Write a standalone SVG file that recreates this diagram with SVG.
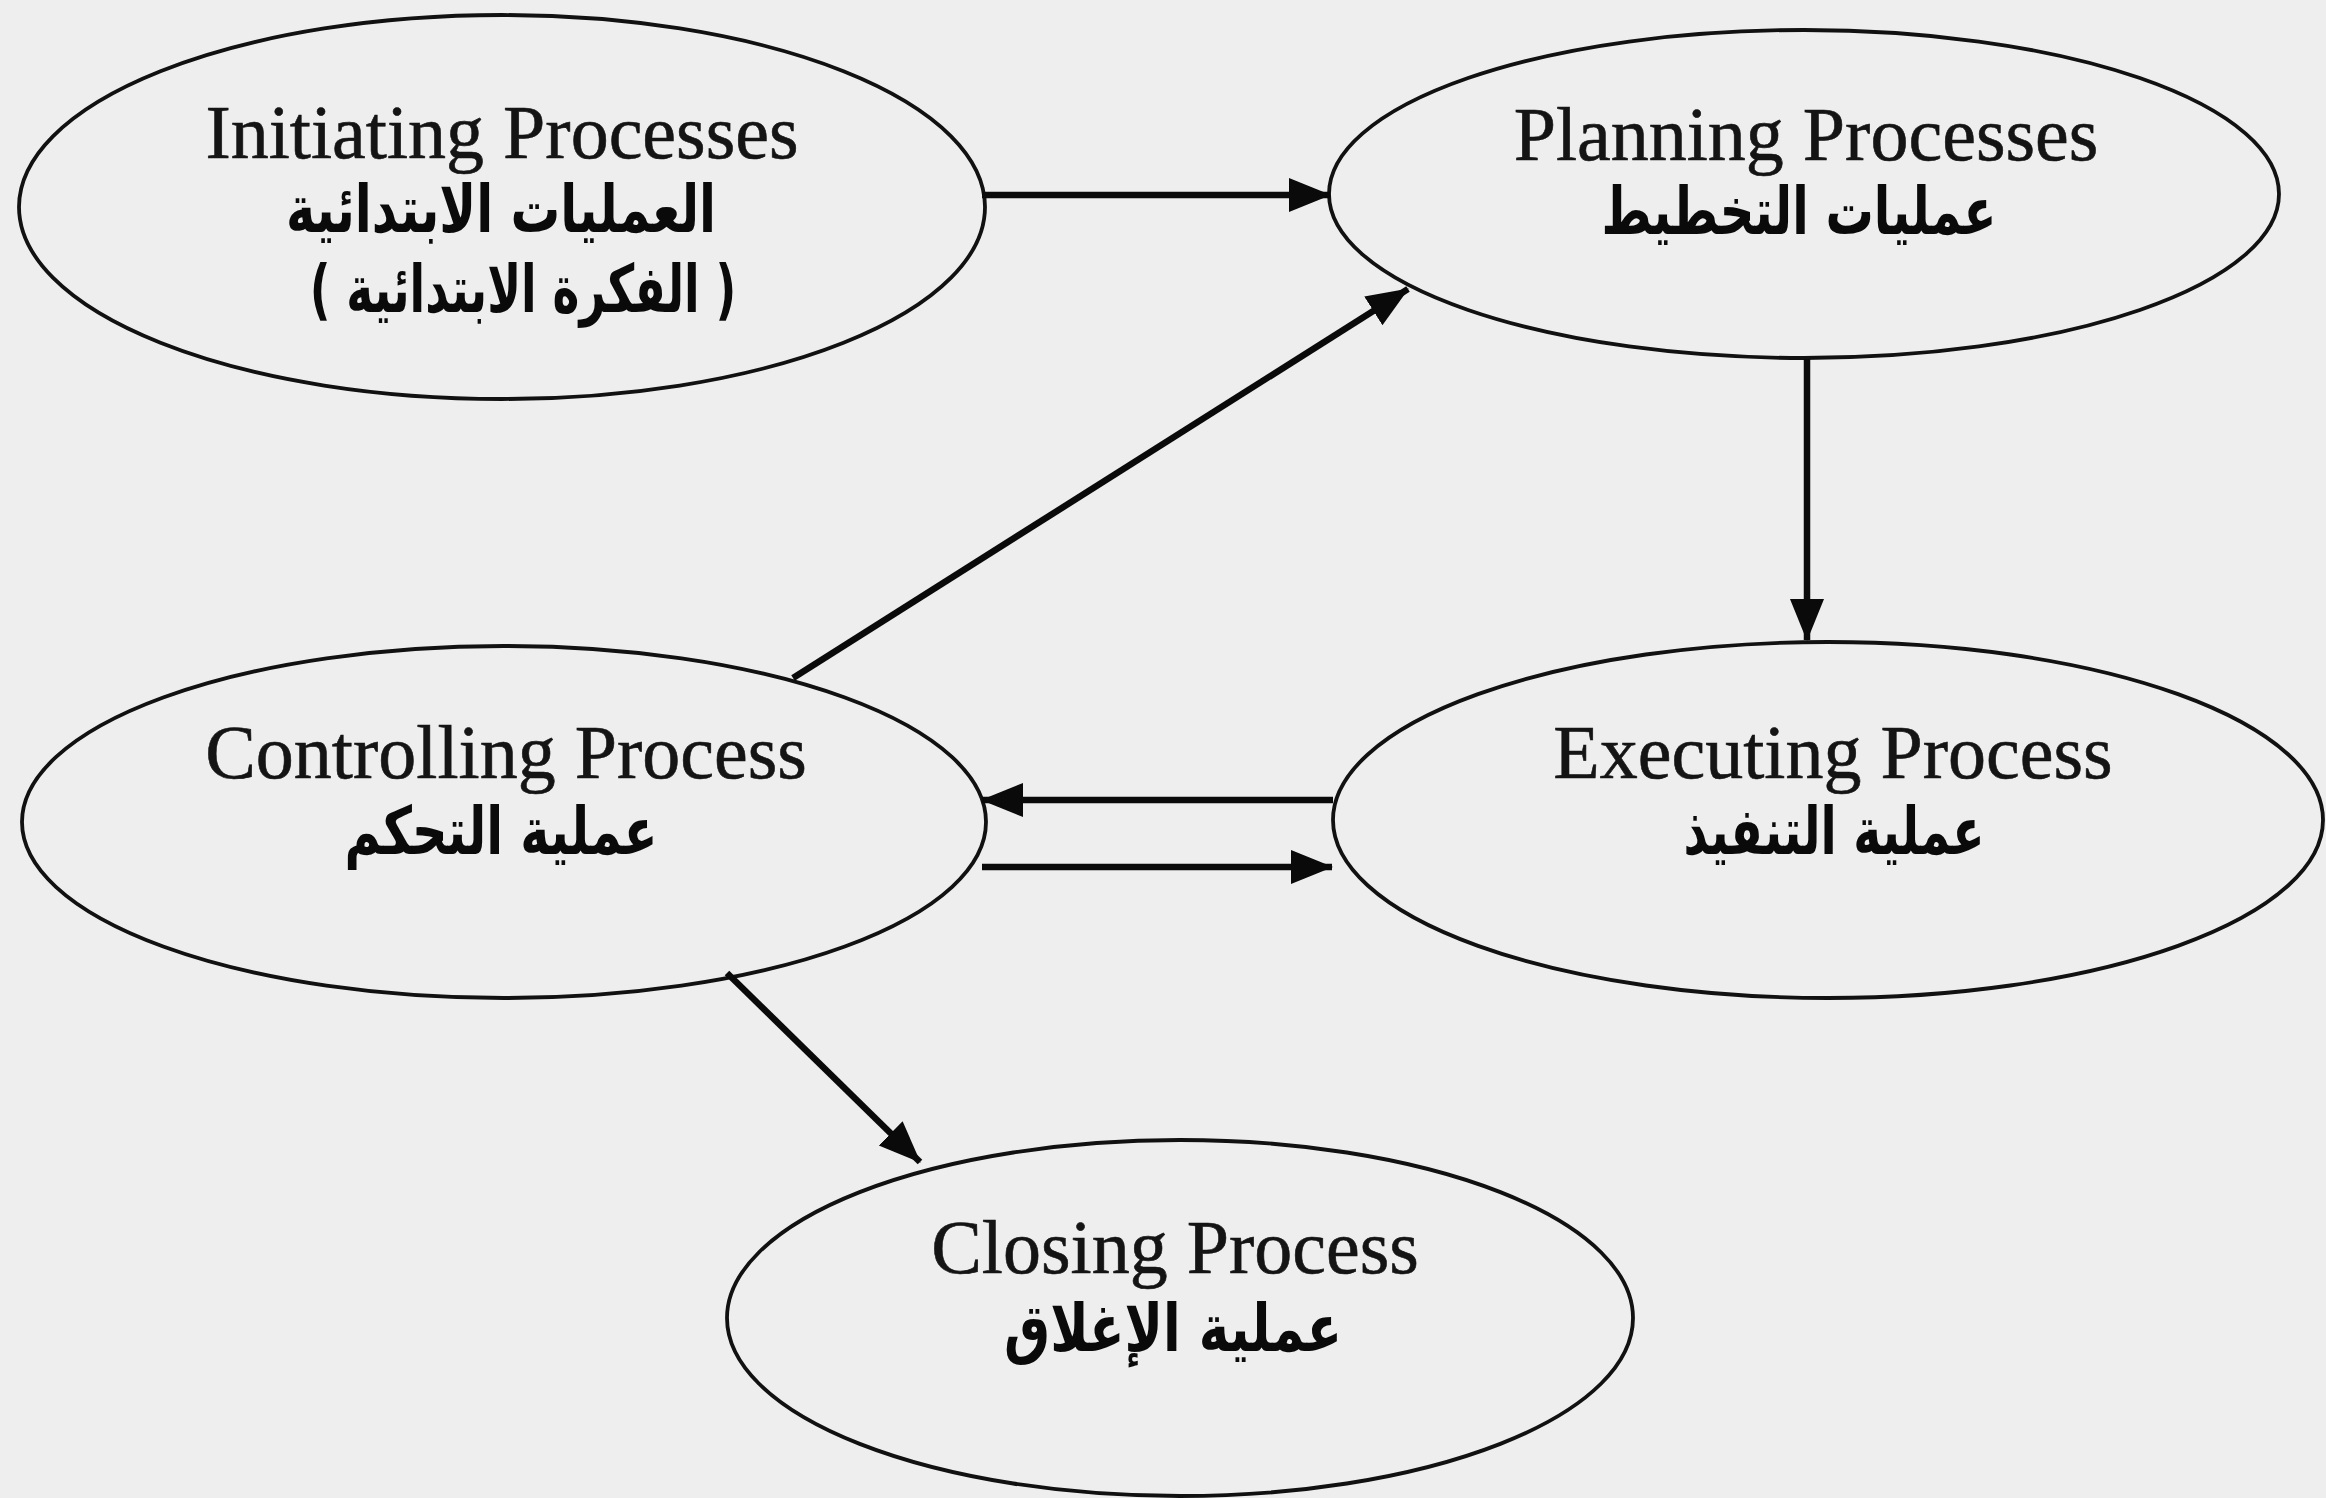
<svg xmlns="http://www.w3.org/2000/svg" width="2326" height="1498" viewBox="0 0 2326 1498">
  <style>
    .bg { fill: #eeeeee; }
    .node ellipse { fill: none; stroke: #111111; stroke-width: 3.8; }
    .en { font-family: "Liberation Serif", "Times New Roman", serif; font-size: 76px; fill: #141414; stroke: #141414; stroke-width: 0.6; text-anchor: middle; }
    .ar { font-family: "DejaVu Sans", sans-serif; font-weight: bold; font-size: 66px; fill: #0a0a0a; text-anchor: middle; direction: rtl; unicode-bidi: embed; }
    .edge { stroke: #0a0a0a; stroke-width: 6.5; fill: none; }
  </style>
  <defs>
    <marker id="arrow" markerUnits="userSpaceOnUse" markerWidth="44" markerHeight="38" refX="41" refY="19" orient="auto">
      <path d="M0,2 L42,19 L0,36 Z" fill="#0a0a0a"/>
    </marker>
  </defs>

  <rect class="bg" x="0" y="0" width="2326" height="1498"/>

  <g id="initiating" class="node">
    <ellipse cx="502" cy="207" rx="483" ry="192"/>
    <text class="en" x="502" y="158">Initiating Processes</text>
    <text class="ar" x="501" y="232" textLength="430" lengthAdjust="spacingAndGlyphs">العمليات الابتدائية</text>
    <text class="ar" transform="translate(523,312) scale(0.69,1)" x="0" y="0">( الفكرة الابتدائية )</text>
  </g>

  <g id="planning" class="node">
    <ellipse cx="1804" cy="194" rx="475" ry="164"/>
    <text class="en" x="1806" y="160">Planning Processes</text>
    <text class="ar" x="1799" y="234" textLength="395" lengthAdjust="spacingAndGlyphs">عمليات التخطيط</text>
  </g>

  <g id="controlling" class="node">
    <ellipse cx="504" cy="822" rx="482" ry="176"/>
    <text class="en" x="506" y="778">Controlling Process</text>
    <text class="ar" x="501" y="854" textLength="313" lengthAdjust="spacingAndGlyphs">عملية التحكم</text>
  </g>

  <g id="executing" class="node">
    <ellipse cx="1828" cy="820" rx="495" ry="178"/>
    <text class="en" x="1833" y="778">Executing Process</text>
    <text class="ar" x="1834" y="854" textLength="301" lengthAdjust="spacingAndGlyphs">عملية التنفيذ</text>
  </g>

  <g id="closing" class="node">
    <ellipse cx="1180" cy="1318" rx="453" ry="178"/>
    <text class="en" x="1175" y="1273">Closing Process</text>
    <text class="ar" x="1173" y="1351" textLength="338" lengthAdjust="spacingAndGlyphs">عملية الإغلاق</text>
  </g>

  <g id="connectors">
    <line class="edge" x1="982" y1="195" x2="1330" y2="195" marker-end="url(#arrow)"/>
    <line class="edge" x1="793" y1="678" x2="1408" y2="289" marker-end="url(#arrow)"/>
    <line class="edge" x1="1807" y1="359" x2="1807" y2="640" marker-end="url(#arrow)"/>
    <line class="edge" x1="1333" y1="800" x2="982" y2="800" marker-end="url(#arrow)"/>
    <line class="edge" x1="982" y1="867" x2="1332" y2="867" marker-end="url(#arrow)"/>
    <line class="edge" x1="727" y1="973" x2="920" y2="1162" marker-end="url(#arrow)"/>
  </g>
</svg>
